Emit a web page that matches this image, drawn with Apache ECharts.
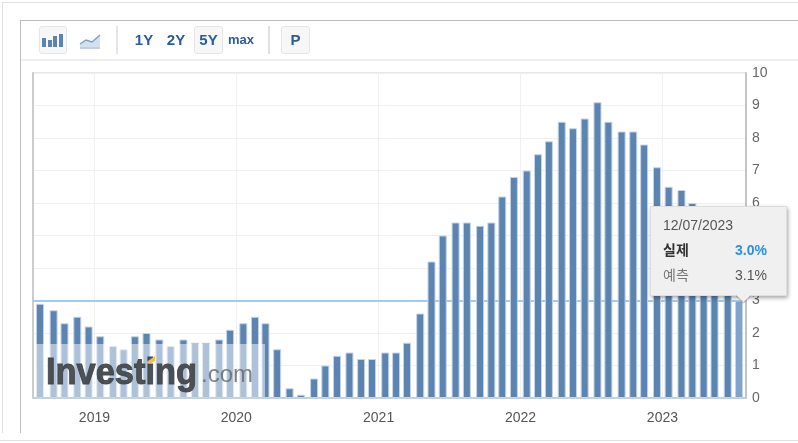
<!DOCTYPE html>
<html>
<head>
<meta charset="utf-8">
<script src="https://cdn.jsdelivr.net/npm/echarts@6/dist/echarts.min.js"></script>
<style>
  html, body { margin: 0; padding: 0; background: #fff; font-family: "Liberation Sans", Arial, sans-serif; }
  #page { position: relative; width: 798px; height: 443px; overflow: hidden; }
  #chart { position: absolute; left: 0; top: 0; width: 798px; height: 443px; }
  .ln { position: absolute; }
  .btn { position: absolute; top: 26px; height: 26px; background: #f7f7f7; border: 1px solid #e6e6e6; border-radius: 3px; }
  .lbl { position: absolute; top: 31px; height: 18px; line-height: 18px; text-align: center; color: #2a5d9e; font-weight: bold; font-size: 15px; }
</style>
</head>
<body>
<div id="page">
  <div class="ln" style="left:2px;top:2px;width:796px;height:1px;background:#e2e2e2"></div>
  <div class="ln" style="left:2px;top:2px;width:1px;height:431px;background:#e2e2e2"></div>
  <div class="ln" style="left:20px;top:20px;width:778px;height:1px;background:#bdbdbd"></div>
  <div class="ln" style="left:20px;top:20px;width:1px;height:413px;background:#bdbdbd"></div>
  <div class="ln" style="left:21px;top:59px;width:777px;height:2px;background:#eeeeee"></div>
  <div class="ln" style="left:0;top:440px;width:798px;height:1px;background:#e2e2e2"></div>
  <div id="chart"></div>

  <div class="btn" style="left:39px;width:26px"></div>
  <svg class="ln" style="left:42px;top:33px" width="22" height="14">
    <rect x="0" y="5" width="4" height="9" fill="#5b84b1"/>
    <rect x="6" y="7" width="4" height="7" fill="#5b84b1"/>
    <rect x="11" y="3" width="4" height="11" fill="#5b84b1"/>
    <rect x="17" y="1" width="4" height="13" fill="#5b84b1"/>
  </svg>
  <svg class="ln" style="left:79px;top:33px" width="22" height="17">
    <path d="M1 11 L7 7 L13 9 L21 2 L21 14 L1 14 Z" fill="#d3e0ee"/>
    <path d="M1 11 L7 7 L13 9 L21 2" fill="none" stroke="#7f9fc2" stroke-width="1.4"/>
    <rect x="1" y="14" width="20" height="2" fill="#c2cfde"/>
  </svg>
  <div class="ln" style="left:116px;top:26px;width:2px;height:28px;background:#e6e6e6"></div>
  <div class="lbl" style="left:130px;width:28px">1Y</div>
  <div class="lbl" style="left:162px;width:28px">2Y</div>
  <div class="btn" style="left:194px;width:27px"></div>
  <div class="lbl" style="left:194px;width:29px">5Y</div>
  <div class="lbl" style="left:226px;width:30px;font-size:13px">max</div>
  <div class="ln" style="left:268px;top:26px;width:2px;height:28px;background:#e0e0e0"></div>
  <div class="btn" style="left:281px;width:27px"></div>
  <div class="lbl" style="left:281px;width:29px;font-size:15px">P</div>
</div>

<script>
  // 막대 위치 (그림에서 읽은 날짜) / 실제 (%)
  const dates = [
    '2018-08-14','2018-09-18','2018-10-16','2018-11-18','2018-12-17',
    '2019-01-16','2019-02-18','2019-03-17','2019-04-15','2019-05-15','2019-06-17',
    '2019-07-16','2019-08-18','2019-09-17','2019-10-15','2019-11-18','2019-12-16',
    '2020-01-19','2020-02-18','2020-03-16','2020-04-15','2020-05-17','2020-06-15',
    '2020-07-19','2020-08-17','2020-09-16','2020-10-18','2020-11-17','2020-12-15',
    '2021-01-18','2021-02-15','2021-03-15','2021-04-18','2021-05-17','2021-06-15',
    '2021-07-18','2021-08-16','2021-09-19','2021-10-18','2021-11-15','2021-12-15',
    '2022-01-17','2022-02-15','2022-03-15','2022-04-17','2022-05-16','2022-06-15',
    '2022-07-18','2022-08-15','2022-09-18','2022-10-18','2022-11-15','2022-12-18',
    '2023-01-17','2023-02-19','2023-03-19','2023-04-17','2023-05-15','2023-06-18','2023-07-17'
  ];
  const actual = [
    2.9,2.7,2.3,2.5,2.2,
    1.9,1.6,1.5,1.9,2.0,1.8,
    1.6,1.8,1.7,1.7,1.8,2.1,
    2.3,2.5,2.3,1.5,0.3,0.1,
    0.6,1.0,1.3,1.4,1.2,1.2,
    1.4,1.4,1.7,2.6,4.2,5.0,
    5.4,5.4,5.3,5.4,6.2,6.8,
    7.0,7.5,7.9,8.5,8.3,8.6,
    9.1,8.5,8.2,8.2,7.8,7.1,
    6.5,6.4,6.0,5.0,4.9,4.0,3.0
  ];
  const yearTicks = ['2019-01-01','2020-01-01','2021-01-01','2022-01-01','2023-01-01'];
  const axisStart = '2018-07-27';
  const axisEnd = '2023-08-04';
  const currentLine = 3.0;
  const tipDate = '12/07/2023';
  const tipActual = '3.0%';
  const tipForecast = '3.1%';

  const font = '"Liberation Sans", Arial, sans-serif';
  const toMs = d => Date.parse(d + 'T00:00:00Z');
  const myEcharts = echarts.init(document.getElementById('chart'), null, {renderer: 'canvas'});

  const seriesData = dates.map((d, i) => {
    const item = {value: [toMs(d), actual[i]]};
    if (i === dates.length - 1) {
      item.itemStyle = {color: '#7ea3cc'}; // 마지막 막대 hover
    }
    return item;
  });
  const yearValues = yearTicks.map(toMs);

  const options = {
    animation: false,
    tooltip: {
      trigger: 'item',
      alwaysShowContent: true,
      transitionDuration: 0,
      padding: 0,
      backgroundColor: '#f0f0f0',
      borderColor: '#dddddd',
      borderWidth: 1,
      extraCssText: 'box-shadow:1px 2px 4px rgba(0,0,0,0.35);border-radius:0;width:135px;height:88px;',
      position: () => [650, 206],
      formatter: () =>
        '<div style="position:relative;width:135px;height:88px;font-family:\'Liberation Sans\',\'Noto Sans CJK KR\',sans-serif;font-size:14px;line-height:18px;color:#555">' +
        '<div style="position:absolute;left:12px;top:9px">' + tipDate + '</div>' +
        '<div style="position:absolute;left:12px;top:34px;font-weight:bold;color:#333">실제</div>' +
        '<div style="position:absolute;right:19px;top:34px;font-weight:bold;color:#2a8fe8">' + tipActual + '</div>' +
        '<div style="position:absolute;left:12px;top:59px;color:#777">예측</div>' +
        '<div style="position:absolute;right:19px;top:59px;color:#555">' + tipForecast + '</div>' +
        '<div style="position:absolute;left:87px;top:82px;width:11px;height:11px;background:#f0f0f0;transform:rotate(45deg);box-shadow:1px 1px 1px rgba(0,0,0,0.2)"></div>' +
        '</div>'
    },
    grid: {
      show: true,
      top: 73,
      left: 33,
      right: 52,
      bottom: 45,
      borderColor: '#e8e8e8',
      borderWidth: 2,
      backgroundColor: 'transparent'
    },
    xAxis: [{
      type: 'value',
      scale: true,
      min: toMs(axisStart),
      max: toMs(axisEnd),
      axisLine: {show: true, lineStyle: {color: '#c2d0df', width: 2}},
      axisTick: {show: false, customValues: yearValues},
      axisLabel: {
        customValues: yearValues,
        color: '#555',
        fontFamily: font,
        fontSize: 14,
        margin: 13,
        formatter: v => String(new Date(v).getUTCFullYear())
      },
      splitLine: {show: true, lineStyle: {color: '#f0f0f0', width: 1}}
    }],
    yAxis: [{
      type: 'value',
      position: 'right',
      min: 0,
      max: 10,
      interval: 1,
      axisLine: {show: true, lineStyle: {color: '#c4c4c4', width: 2}},
      axisTick: {show: false},
      axisLabel: {color: '#666', fontFamily: font, fontSize: 14, margin: 6},
      splitLine: {show: true, lineStyle: {color: '#f0f0f0', width: 1}}
    }, {
      type: 'value',
      position: 'left',
      min: 0,
      max: 10,
      axisLine: {show: true, lineStyle: {color: '#cccccc', width: 2}},
      axisTick: {show: false},
      axisLabel: {show: false},
      splitLine: {show: false}
    }],
    series: [{
      name: '실제',
      type: 'bar',
      barWidth: 8,
      z: 3,
      itemStyle: {color: '#5b84b1', borderColor: '#c5d4e6', borderWidth: 1},
      markLine: {
        silent: true,
        z: 1,
        symbol: 'none',
        label: {show: false},
        lineStyle: {color: '#a3cbee', width: 2, type: 'solid'},
        data: [{yAxis: currentLine}]
      },
      data: seriesData
    }],
    graphic: {
      elements: [
        // Investing.com 워터마크
        {type: 'rect', z: 20, silent: true, shape: {x: 34, y: 344, width: 231, height: 53}, style: {fill: 'rgba(255,255,255,0.5)'}},
        {type: 'text', z: 21, silent: true, x: 46, y: 355, scaleX: 0.93, style: {text: 'Investing', fill: 'rgba(64,68,74,0.92)', stroke: 'rgba(64,68,74,0.92)', lineWidth: 1, font: 'bold 37px ' + font}},
        {type: 'text', z: 21, silent: true, x: 201, y: 363, style: {text: '.com', fill: 'rgba(105,108,112,0.85)', font: '24px ' + font}},
        {type: 'polygon', z: 22, silent: true, shape: {points: [[148, 361], [155, 356], [155, 361], [149, 364]]}, style: {fill: '#f7bd45'}}
      ]
    }
  };
  myEcharts.setOption(options, true);
  myEcharts.dispatchAction({type: 'showTip', seriesIndex: 0, dataIndex: dates.length - 1});
</script>
</body>
</html>
